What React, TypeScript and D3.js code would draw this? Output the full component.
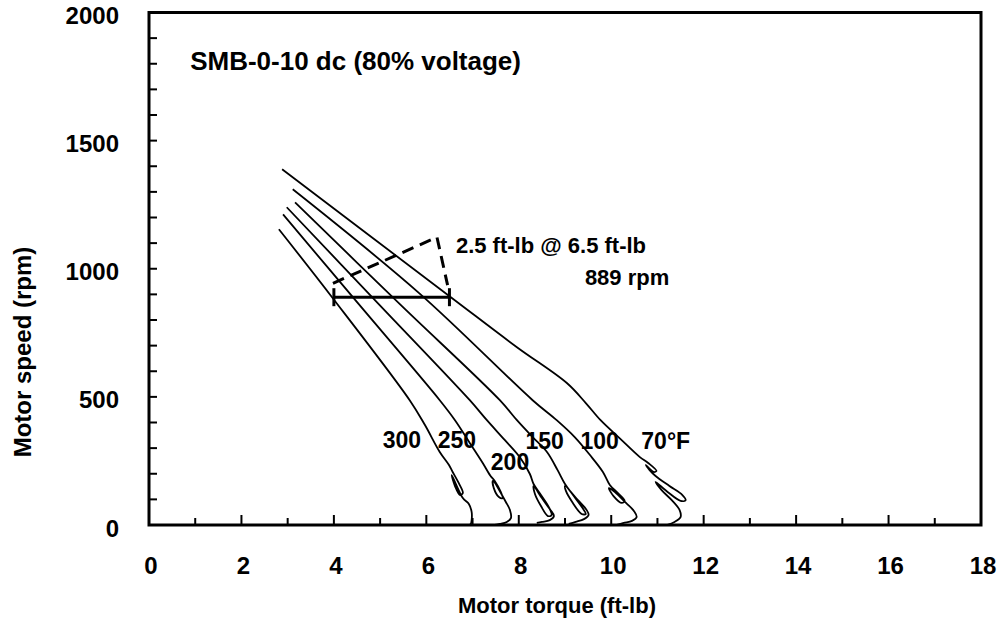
import React from "react";
import * as d3 from "d3";

// ---- data (torque ft-lb, speed rpm) ----
const curve70: [number, number][] = [
  [2.88, 1388], [6.53, 889], [7.96, 694], [9.04, 554], [9.45, 476], [9.77, 409], [10.18, 339], [10.62, 265],
  [10.8, 242], [10.98, 211], [10.92, 207], [10.75, 234], [10.83, 214],
  [10.96, 191], [11.26, 152], [11.54, 117], [11.61, 97], [11.5, 94], [11.22, 129], [10.96, 168],
  [11.09, 136], [11.31, 97], [11.48, 58], [11.5, 31], [11.37, 12], [11.2, 0],
];
const curve100: [number, number][] = [
  [3.11, 1310], [5.85, 904], [8.3, 487], [8.82, 409], [9.21, 343], [9.54, 273], [9.82, 207],
  [9.97, 156], [10.14, 125], [10.29, 94], [10.23, 86], [10.05, 113], [9.95, 144],
  [10.08, 129], [10.32, 86], [10.49, 55], [10.55, 31], [10.45, 16], [10.27, 8], [10.1, 0],
];
const curve150: [number, number][] = [
  [3.16, 1259], [5.45, 858], [7.59, 487], [7.96, 409], [8.3, 343], [8.61, 285], [8.84, 214],
  [9.0, 160], [9.19, 113], [9.38, 66], [9.45, 43], [9.36, 43], [9.17, 86], [9.02, 133], [9.0, 152],
  [9.28, 97], [9.47, 58], [9.51, 39], [9.41, 23], [9.23, 12], [9.08, 4],
];
const curve200: [number, number][] = [
  [2.98, 1240], [4.97, 862], [6.94, 487], [7.31, 409], [7.7, 331], [8.02, 265], [8.24, 199],
  [8.32, 160], [8.48, 117], [8.65, 70], [8.71, 39], [8.63, 35], [8.48, 74], [8.35, 121], [8.32, 152],
  [8.5, 105], [8.67, 62], [8.76, 35], [8.67, 19], [8.5, 12], [8.39, 8],
];
const curve250: [number, number][] = [
  [2.9, 1212], [4.41, 889], [6.29, 487], [6.62, 409], [6.94, 320], [7.22, 242], [7.39, 191],
  [7.48, 172], [7.61, 129], [7.65, 105], [7.57, 109], [7.46, 144], [7.44, 172],
  [7.72, 90], [7.81, 58], [7.83, 27], [7.74, 12], [7.59, 4], [7.48, 0],
];
const curve300: [number, number][] = [
  [2.81, 1154], [3.96, 889], [5.64, 487], [5.97, 390], [6.29, 285], [6.49, 234],
  [6.57, 207], [6.7, 164], [6.79, 125], [6.73, 117], [6.62, 152], [6.55, 195],
  [6.79, 105], [6.92, 82], [6.98, 51], [6.98, 19], [6.96, 4], [6.9, 0],
];
const curves = [curve70, curve100, curve150, curve200, curve250, curve300];
const curveLabels = ["70°F", "100", "150", "200", "250", "300"];

const barTorque: [number, number] = [4.0, 6.5];
const barSpeed = 889;
const dashedPath: [number, number][] = [[3.98, 943], [6.23, 1123], [6.46, 936]];

const xTicks = d3.range(0, 19, 1);
const xTickLabels = d3.range(0, 19, 2);
const yTicks = d3.range(0, 2001, 100);
const yTickLabels = [0, 500, 1000, 1500, 2000];

const titleText = "SMB-0-10 dc (80% voltage)";
const annotText1 = "2.5 ft-lb @ 6.5 ft-lb";
const annotText2 = "889 rpm";
const xTitle = "Motor torque (ft-lb)";
const yTitle = "Motor speed (rpm)";

// ---- layout ----
const W = 1002, H = 623;
const X0 = 149, X1 = 981, Y0 = 525, Y1 = 12.5;
const labelPos: [number, number][] = [
  [11.18, 327], [9.75, 327], [8.56, 327], [7.81, 246], [6.66, 331], [5.47, 331],
];
const FONT = "'Liberation Sans', Arial, Helvetica, sans-serif";

export default function App() {
  const x = d3.scaleLinear().domain([0, 18]).range([X0, X1]);
  const y = d3.scaleLinear().domain([0, 2000]).range([Y0, Y1]);
  const line = d3
    .line<[number, number]>()
    .x((d) => x(d[0]))
    .y((d) => y(d[1]))
    .curve(d3.curveCatmullRom.alpha(0.5));
  const straight = d3
    .line<[number, number]>()
    .x((d) => x(d[0]))
    .y((d) => y(d[1]));

  return (
    <svg
      width={W}
      height={H}
      style={{ position: "absolute", left: 0, top: 0, background: "#fff" }}
      fontFamily={FONT}
    >
      <rect x={0} y={0} width={W} height={H} fill="#fff" />
      {/* curves */}
      <g fill="none" stroke="#000" strokeWidth={1.8} strokeLinejoin="round">
        {curves.map((c, i) => (
          <path key={i} d={line(c) || ""} />
        ))}
      </g>
      {/* curve labels */}
      <g fontSize={23} fontWeight="bold" textAnchor="middle" dominantBaseline="central">
        {curveLabels.map((t, i) => (
          <text key={t} x={x(labelPos[i][0])} y={y(labelPos[i][1])}>
            {t}
          </text>
        ))}
      </g>
      {/* bar */}
      <g stroke="#000" strokeWidth={3}>
        <line x1={x(barTorque[0])} x2={x(barTorque[1])} y1={y(barSpeed)} y2={y(barSpeed)} />
        {barTorque.map((t) => (
          <line key={t} x1={x(t)} x2={x(t)} y1={y(barSpeed) - 9} y2={y(barSpeed) + 9} />
        ))}
      </g>
      <path
        d={straight(dashedPath) || ""}
        fill="none"
        stroke="#000"
        strokeWidth={3}
        strokeDasharray="12 7"
      />
      <text x={x(6.64)} y={y(1092)} fontSize={22} fontWeight="bold" dominantBaseline="central">
        {annotText1}
      </text>
      <text x={x(9.43)} y={y(967)} fontSize={22} fontWeight="bold" dominantBaseline="central">
        {annotText2}
      </text>
      <text x={x(0.89)} y={y(1809)} fontSize={26} fontWeight="bold" dominantBaseline="central">
        {titleText}
      </text>
      {/* ticks */}
      <g stroke="#000" strokeWidth={2}>
        {xTicks.map((t) => (
          <line key={t} x1={x(t)} x2={x(t)} y1={Y0} y2={Y0 - (t % 2 === 0 ? 10 : 7)} />
        ))}
        {yTicks.map((t) => (
          <line key={t} x1={X0} x2={X0 + 8} y1={y(t)} y2={y(t)} />
        ))}
      </g>
      {/* frame */}
      <rect
        x={X0}
        y={Y1}
        width={X1 - X0}
        height={Y0 - Y1}
        fill="none"
        stroke="#000"
        strokeWidth={3}
      />
      {/* tick labels */}
      <g fontSize={24} fontWeight="bold" textAnchor="middle" dominantBaseline="central">
        {xTickLabels.map((t) => (
          <text key={t} x={x(t) + 2} y={565}>
            {t}
          </text>
        ))}
      </g>
      <g fontSize={24} fontWeight="bold" textAnchor="end" dominantBaseline="central">
        {yTickLabels.map((t) => (
          <text key={t} x={119} y={y(t) + 3}>
            {t}
          </text>
        ))}
      </g>
      <text x={557} y={605} fontSize={22} fontWeight="bold" textAnchor="middle" dominantBaseline="central">
        {xTitle}
      </text>
      <text
        transform={`translate(22,352) rotate(-90)`}
        fontSize={24}
        fontWeight="bold"
        textAnchor="middle"
        dominantBaseline="central"
      >
        {yTitle}
      </text>
    </svg>
  );
}
